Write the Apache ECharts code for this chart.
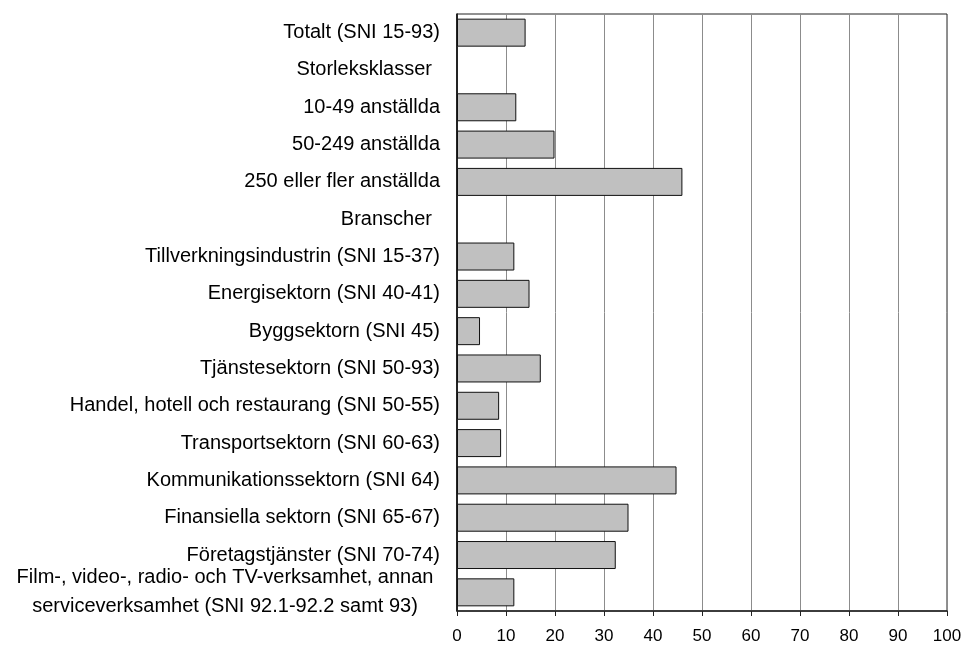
<!DOCTYPE html>
<html>
<head>
<meta charset="utf-8">
<script src="https://cdn.jsdelivr.net/npm/echarts@6/dist/echarts.min.js"></script>
<style>
  html, body { margin: 0; padding: 0; background: #fff; }
  #chart { width: 965px; height: 650px; }
</style>
</head>
<body>
<div id="chart"></div>
<script>
const categories = [
  'Totalt (SNI 15-93)',
  'Storleksklasser',
  '10-49 anställda',
  '50-249 anställda',
  '250 eller fler anställda',
  'Branscher',
  'Tillverkningsindustrin (SNI 15-37)',
  'Energisektorn (SNI 40-41)',
  'Byggsektorn (SNI 45)',
  'Tjänstesektorn (SNI 50-93)',
  'Handel, hotell och restaurang (SNI 50-55)',
  'Transportsektorn (SNI 60-63)',
  'Kommunikationssektorn (SNI 64)',
  'Finansiella sektorn (SNI 65-67)',
  'Företagstjänster (SNI 70-74)',
  'Film-, video-, radio- och TV-verksamhet, annan\nserviceverksamhet (SNI 92.1-92.2 samt 93)'
]
const headings = ['Storleksklasser', 'Branscher']
const values = [14.0, null, 12.1, 19.9, 46.0, null, 11.7, 14.8, 4.7, 17.1, 8.6, 9.0, 44.8, 35.0, 32.4, 11.7]
const xTicks = [0, 10, 20, 30, 40, 50, 60, 70, 80, 90, 100]

const chart = echarts.init(document.getElementById('chart'))
const font = 'Liberation Sans, Arial, sans-serif'

// headings sit a little further in from the axis than the other labels
const yData = categories.map(c => headings.indexOf(c) >= 0
  ? { value: c, textStyle: { padding: [0, 8, 0, 0] } }
  : c)

const option = {
  animation: false,
  grid: {
    left: 457,
    right: 18,
    top: 14,
    bottom: 39,
    show: true,
    borderColor: '#222',
    borderWidth: 1
  },
  xAxis: {
    type: 'value',
    min: xTicks[0],
    max: xTicks[xTicks.length - 1],
    interval: 10,
    axisLine: { show: true, lineStyle: { color: '#222', width: 1.5 } },
    axisTick: { show: true, inside: false, length: 5, lineStyle: { color: '#222' } },
    axisLabel: { color: '#000', fontSize: 17, fontFamily: font, margin: 17 },
    splitLine: { show: true, lineStyle: { color: '#8c8c8c', width: 1 } }
  },
  yAxis: {
    type: 'category',
    inverse: true,
    data: yData,
    axisLine: { show: true, lineStyle: { color: '#000', width: 1.5 } },
    axisTick: { show: false },
    splitLine: { show: false },
    axisLabel: {
      color: '#000',
      fontSize: 20,
      fontFamily: font,
      margin: 17,
      interval: 0,
      formatter: function (v) {
        if (v.indexOf('\n') >= 0) {
          return v.split('\n').map(s => '{c|' + s + '}').join('\n')
        }
        return v
      },
      rich: {
        c: { width: 430, align: 'center', fontSize: 20, fontFamily: font, color: '#000', lineHeight: 29 }
      }
    }
  },
  series: [{
    type: 'bar',
    data: values,
    barCategoryGap: '25%',
    itemStyle: { color: '#c0c0c0', borderColor: '#111', borderWidth: 1 }
  }]
}

chart.setOption(option)
</script>
</body>
</html>
